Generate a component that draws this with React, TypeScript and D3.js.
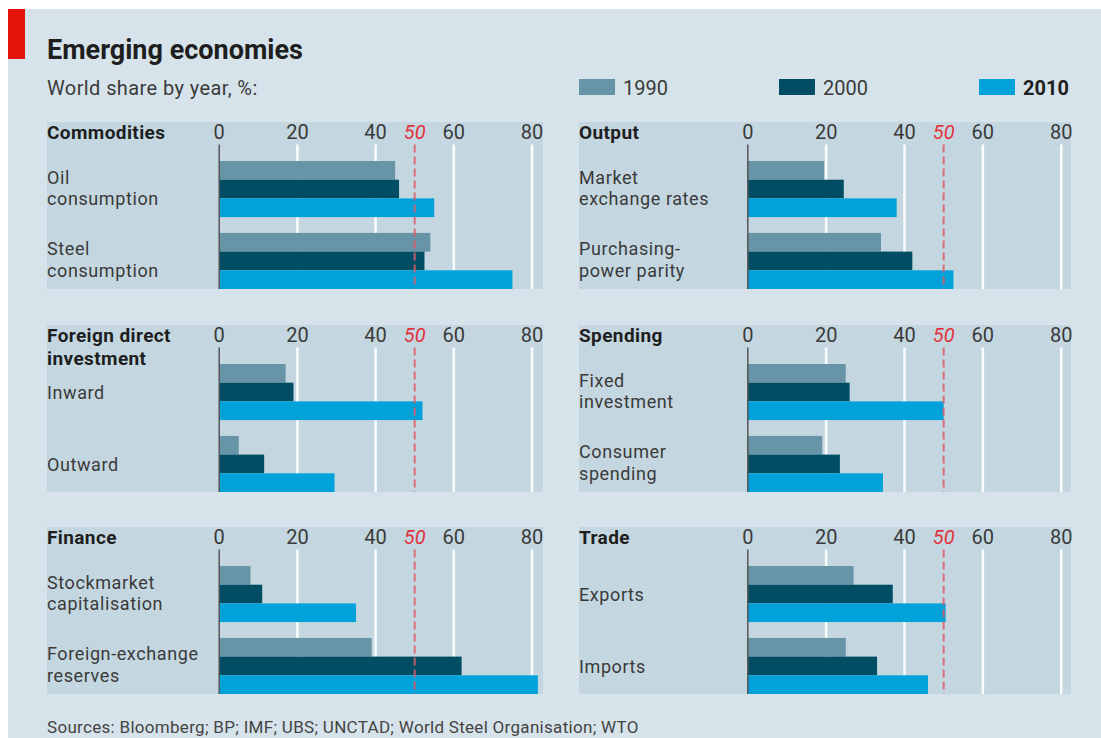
import React from 'react';
import * as d3 from 'd3';

// data
const years = ['1990', '2000', '2010'];
const tickValues = [0, 20, 40, 50, 60, 80];

const commoditiesCats = ['Oil\nconsumption', 'Steel\nconsumption'];
const commoditiesVals = [[45, 46, 55], [54, 52.5, 75]];

const fdiCats = ['Inward', 'Outward'];
const fdiVals = [[17, 19, 52], [5, 11.5, 29.5]];

const financeCats = ['Stockmarket\ncapitalisation', 'Foreign-exchange\nreserves'];
const financeVals = [[8, 11, 35], [39, 62, 81.5]];

const outputCats = ['Market\nexchange rates', 'Purchasing-\npower parity'];
const outputVals = [[19.5, 24.5, 38], [34, 42, 52.5]];

const spendingCats = ['Fixed\ninvestment', 'Consumer\nspending'];
const spendingVals = [[25, 26, 50], [19, 23.5, 34.5]];

const tradeCats = ['Exports', 'Imports'];
const tradeVals = [[27, 37, 50.5], [25, 33, 46]];

const panels = [
  { title: 'Commodities', cats: commoditiesCats, vals: commoditiesVals, col: 0, row: 0 },
  { title: 'Foreign direct\ninvestment', cats: fdiCats, vals: fdiVals, col: 0, row: 1 },
  { title: 'Finance', cats: financeCats, vals: financeVals, col: 0, row: 2 },
  { title: 'Output', cats: outputCats, vals: outputVals, col: 1, row: 0 },
  { title: 'Spending', cats: spendingCats, vals: spendingVals, col: 1, row: 1 },
  { title: 'Trade', cats: tradeCats, vals: tradeVals, col: 1, row: 2 },
];

const W = 1101;
const H = 738;
const FONT = 'Roboto, "Open Sans", sans-serif';
const BG = '#d6e3ea';
const PANEL_BG = '#c4d7e0';
const colors = d3.scaleOrdinal<string, string>().domain(years).range(['#6794a7', '#014d64', '#01a2d9']);

const colLayout = [
  { x0: 47, x1: 543, a0: 219.2, a1: 532 },
  { x0: 579, x1: 1071, a0: 747.8, a1: 1061.2 },
];
const rowTops = [122, 325, 527];
const PANEL_H = 167;

const Panel = ({ p }: { p: typeof panels[number] }) => {
  const c = colLayout[p.col];
  const top = rowTops[p.row];
  const bottom = top + PANEL_H;
  const axisTop = top + 22.5;
  const x = d3.scaleLinear().domain([0, 80]).range([c.a0, c.a1]);
  const yGroup = d3.scaleBand<number>().domain([0, 1]).range([top + 39, bottom]).paddingInner(0.22).paddingOuter(0);
  const yYear = d3.scaleBand<string>().domain(years).range([0, yGroup.bandwidth()]).padding(0);
  const titleLines = p.title.split('\n');

  return (
    <g>
      <rect x={c.x0} y={top} width={c.x1 - c.x0} height={PANEL_H} fill={PANEL_BG} />
      {titleLines.map((t, i) => (
        <text key={t} x={c.x0} y={top + 17 + i * 23} fontSize={19} letterSpacing={0.4}
          fontWeight="bold" fill="#1e1e1e">{t}</text>
      ))}
      {tickValues.map((v) => (
        <text key={v} x={x(v)} y={top + 16.5} fontSize={20} textAnchor="middle"
          fill={v === 50 ? '#e2333d' : '#3a3a3a'} fontStyle={v === 50 ? 'italic' : 'normal'}>{v}</text>
      ))}
      {tickValues.filter((v) => v > 0 && v !== 50).map((v) => (
        <line key={v} x1={x(v)} x2={x(v)} y1={axisTop} y2={bottom} stroke="#fafcfd" strokeWidth={2.5} />
      ))}
      {p.vals.map((row, gi) => (
        <g key={gi}>
          {row.map((v, yi) => (
            <rect key={yi} x={x(0)} y={(yGroup(gi) as number) + (yYear(years[yi]) as number)}
              width={x(v) - x(0)} height={yYear.bandwidth()} fill={colors(years[yi])} />
          ))}
        </g>
      ))}
      {p.cats.map((cat, gi) => {
        const lines = cat.split('\n');
        const cy = (yGroup(gi) as number) + yGroup.bandwidth() / 2;
        const ys = lines.length === 1 ? [cy + 7] : [cy - 5.5, cy + 16];
        return lines.map((l, li) => (
          <text key={gi + '-' + li} x={c.x0} y={ys[li]} fontSize={18} letterSpacing={0.6} fill="#3a3a3a">{l}</text>
        ));
      })}
      <line x1={x(0)} x2={x(0)} y1={axisTop} y2={bottom} stroke="#555" strokeWidth={1.5} />
      <line x1={x(50)} x2={x(50)} y1={axisTop} y2={bottom} stroke="#e05a68" strokeOpacity={0.85}
        strokeWidth={2} strokeDasharray="8,4" />
    </g>
  );
};

export default function App() {
  const legendX = [579, 779, 979];
  return (
    <div style={{ position: 'absolute', left: 0, top: 0 }}>
      <svg width={W} height={H} style={{ display: 'block', fontFamily: FONT }}>
        <rect x={0} y={0} width={W} height={H} fill="#fff" />
        <rect x={8} y={9} width={W - 8} height={H - 9} fill={BG} />
        <rect x={8} y={9} width={17} height={50} fill="#e3120b" />
        <text x={47} y={59} fontSize={27} fontWeight="bold" fill="#1e1e1e">Emerging economies</text>
        <text x={47} y={95} fontSize={20} letterSpacing={0.4} fill="#3a3a3a">World share by year, %:</text>
        {years.map((yr, i) => (
          <g key={yr}>
            <rect x={legendX[i]} y={79} width={36} height={16} fill={colors(yr)} />
            <text x={legendX[i] + 44} y={95} fontSize={20} fill={i === 2 ? '#1e1e1e' : '#3a3a3a'}
              fontWeight={i === 2 ? 'bold' : 'normal'}>{yr}</text>
          </g>
        ))}
        {panels.map((p) => <Panel key={p.title} p={p} />)}
        <text x={47} y={733} fontSize={17} letterSpacing={0.3} fill="#444">
          Sources: Bloomberg; BP; IMF; UBS; UNCTAD; World Steel Organisation; WTO
        </text>
      </svg>
    </div>
  );
}
